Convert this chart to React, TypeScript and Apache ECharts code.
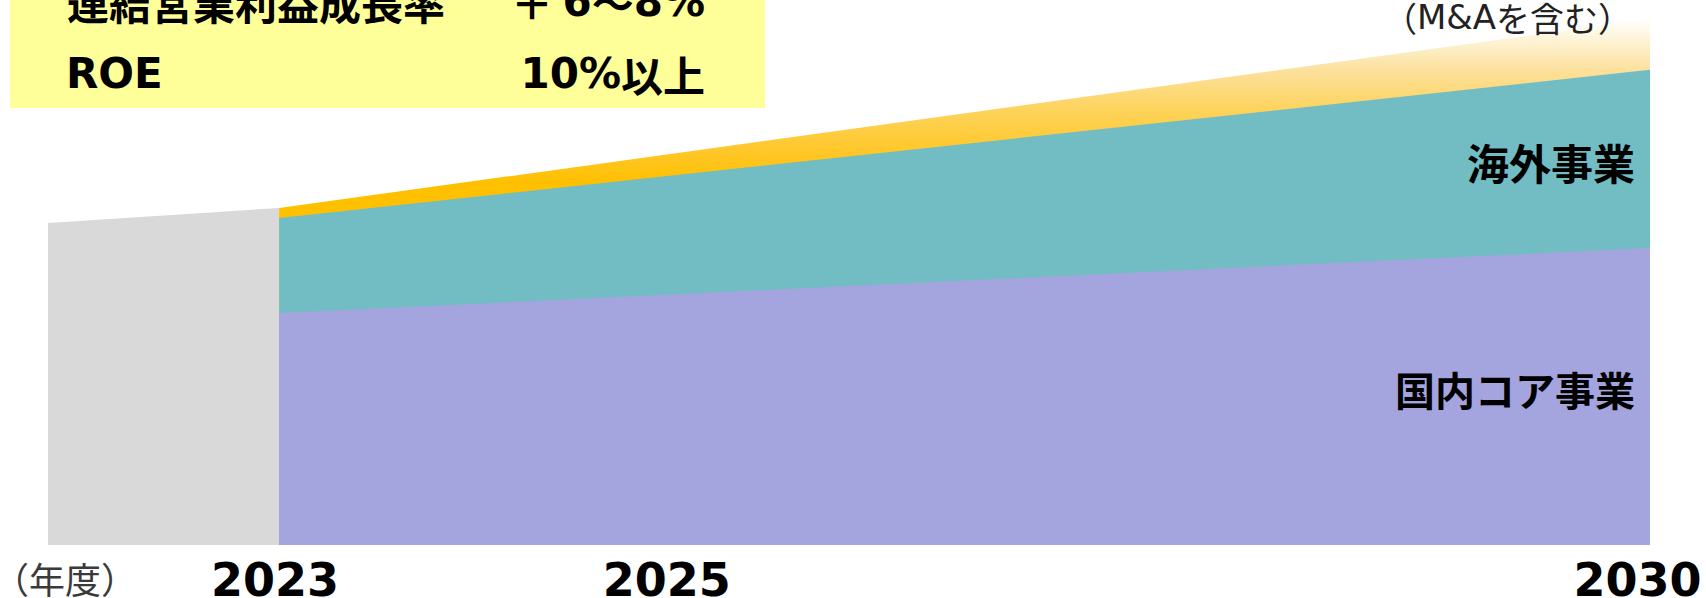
import React, { useEffect, useRef } from "react";
import * as echarts from "echarts";

// ---- data (index: FY2023 total = 100) ----
const priorYears = [2021.82, 2023];
const priorValues = [95.5, 100];
const planYears = [2023, 2030];
const domesticCore = [68.8, 88.1];
const overseas = [28.2, 52.9];
const mna = [3.0, 15.1];
const yearTicks = [2023, 2025, 2030];

const CJK = '"Noto Sans CJK JP", "Noto Sans", sans-serif';
const NUM = '"DejaVu Sans", Verdana, sans-serif';

export default function App() {
  const ref = useRef<HTMLDivElement>(null);
  useEffect(() => {
    if (!ref.current) return;
    const chart = echarts.init(ref.current, undefined, { renderer: "svg" });
    const pairs = (xs: number[], ys: number[]) => xs.map((x, i) => [x, ys[i]]);
    // cumulative tops of the stacked bands
    const coreTop = domesticCore.slice();
    const overseasTop = planYears.map((_, i) => domesticCore[i] + overseas[i]);
    const mnaTop = planYears.map((_, i) => domesticCore[i] + overseas[i] + mna[i]);

    const yellowGrad = new echarts.graphic.LinearGradient(0, 0, 0, 1, [
      { offset: 0, color: "#FFFFFF" },
      { offset: 0.05, color: "#FDF0CC" },
      { offset: 0.1, color: "#FCE09A" },
      { offset: 0.175, color: "#FDD35A" },
      { offset: 0.25, color: "#FFC72A" },
      { offset: 0.31, color: "#FFC000" },
      { offset: 1, color: "#FFC000" },
    ]);
    const areaBase = {
      type: "line",
      symbol: "none",
      silent: true,
      lineStyle: { width: 0 },
    };
    const bold42 = { fontFamily: CJK, fontWeight: "bold", fontSize: 42, fill: "#000" };
    const num42 = { fontFamily: NUM, fontWeight: "bold", fontSize: 42, fill: "#000" };
    chart.setOption({
      animation: false,
      grid: { left: 48, right: 56, top: 0, bottom: 53, outerBoundsMode: "none", containLabel: false },
      xAxis: {
        type: "value",
        min: priorYears[0],
        max: planYears[1],
        axisLine: { show: false },
        axisTick: { show: false },
        splitLine: { show: false },
        axisLabel: {
          customValues: yearTicks,
          margin: 12,
          fontFamily: NUM,
          fontWeight: "bold",
          fontSize: 46,
          color: "#000",
          formatter: (v: number) => (v === 2030 ? `{b|${v}}` : `{a|${v}}`),
          rich: {
            a: { fontFamily: NUM, fontWeight: "bold", fontSize: 46, color: "#000", padding: [0, 8, 0, 0] },
            b: { fontFamily: NUM, fontWeight: "bold", fontSize: 46, color: "#000", padding: [0, 25, 0, 0] },
          },
        },
      },
      yAxis: { type: "value", min: 0, max: 161.7, show: false },
      series: [
        {
          ...areaBase,
          name: "prior",
          data: pairs(priorYears, priorValues),
          areaStyle: { color: "#D9D9D9", opacity: 1 },
          z: 1,
        },
        {
          ...areaBase,
          name: "M&A",
          data: pairs(planYears, mnaTop),
          areaStyle: { color: yellowGrad, opacity: 1 },
          z: 2,
        },
        {
          ...areaBase,
          name: "海外事業",
          data: pairs(planYears, overseasTop),
          areaStyle: { color: "#72BDC4", opacity: 1 },
          z: 3,
        },
        {
          ...areaBase,
          name: "国内コア事業",
          data: pairs(planYears, coreTop),
          areaStyle: { color: "#A4A4DF", opacity: 1 },
          z: 4,
        },
      ],
      graphic: [
        { type: "rect", shape: { x: 10, y: -10, width: 755, height: 118 }, style: { fill: "#FFFF99" }, z: 10 },
        {
          type: "text", x: 67, y: 1, z: 11,
          style: { text: "連結営業利益成長率", font: `bold 42px ${CJK}`, fill: "#000", textAlign: "left", textVerticalAlign: "middle" },
        },
        {
          type: "text", x: 705, y: 1, z: 11,
          style: {
            text: "{c|＋ }{d|6}{c|～}{d|8%}",
            rich: { c: bold42, d: num42 },
            textAlign: "right", textVerticalAlign: "middle",
          },
        },
        {
          type: "text", x: 66, y: 73, z: 11,
          style: { text: "ROE", font: `bold 42px ${NUM}`, fill: "#000", textAlign: "left", textVerticalAlign: "middle" },
        },
        {
          type: "text", x: 705, y: 73, z: 11,
          style: {
            text: "{d|10%}{c|以上}",
            rich: { c: bold42, d: num42 },
            textAlign: "right", textVerticalAlign: "middle",
          },
        },
        {
          type: "text", x: 1632, y: 17, z: 11,
          style: {
            text: "{c|（}{d|M&A}{c|を含む）}",
            rich: {
              c: { fontFamily: CJK, fontSize: 34, fill: "#222" },
              d: { fontFamily: NUM, fontSize: 34, fill: "#222" },
            },
            textAlign: "right", textVerticalAlign: "middle",
          },
        },
        {
          type: "text", x: 1635, y: 161, z: 11,
          style: { text: "海外事業", font: `bold 42px ${CJK}`, fill: "#000", textAlign: "right", textVerticalAlign: "middle" },
        },
        {
          type: "text", x: 1635, y: 389, z: 11,
          style: { text: "国内コア事業", font: `bold 40px ${CJK}`, fill: "#000", textAlign: "right", textVerticalAlign: "middle" },
        },
        {
          type: "text", x: 65, y: 578, z: 11,
          style: { text: "（年度）", font: `36px ${CJK}`, fill: "#3A3A3A", textAlign: "center", textVerticalAlign: "middle" },
        },
      ],
    });
    return () => chart.dispose();
  }, []);
  return (
    <div
      ref={ref}
      style={{ position: "absolute", left: 0, top: 0, width: 1706, height: 598, background: "#fff" }}
    />
  );
}
